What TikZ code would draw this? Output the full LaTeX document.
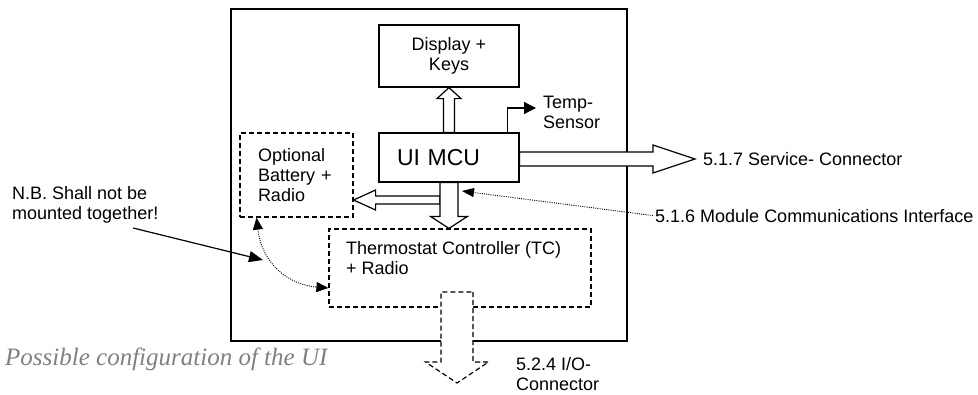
\documentclass[tikz,border=0pt]{standalone}
\usepackage{fontspec}
\setmainfont{Liberation Sans}
\newfontfamily\capfont{Liberation Serif}
\usetikzlibrary{arrows.meta,calc}
\definecolor{capgray}{RGB}{128,128,128}

% hollow block arrow: [style]{from}{to}{shaft half width}{head half width}{head length}
\newcommand{\blockarrow}[6][]{%
  \coordinate (ba-s) at (#2);
  \coordinate (ba-t) at (#3);
  \coordinate (ba-h) at ($(ba-t)!#6!(ba-s)$);
  \draw[#1] ($(ba-s)!#4!90:(ba-t)$) -- ($(ba-h)!#4!90:(ba-t)$) -- ($(ba-h)!#5!90:(ba-t)$)
    -- (ba-t) -- ($(ba-h)!#5!-90:(ba-t)$) -- ($(ba-h)!#4!-90:(ba-t)$) -- ($(ba-s)!#4!-90:(ba-t)$) -- cycle;}

\begin{document}
\begin{tikzpicture}[x=1pt,y=-1pt,font=\fontsize{18}{20}\selectfont]
\tikzstyle{box}=[draw=black,line width=1.2pt,inner sep=0pt]
\tikzstyle{dashln}=[dash pattern=on 5pt off 3pt]
\tikzstyle{txt}=[inner sep=0pt,align=left]
\tikzstyle{hollow}=[draw=black,fill=white,line width=1.2pt,line join=miter]
\tikzstyle{dots}=[line width=0.9pt,dash pattern=on 1pt off 1.2pt]
\useasboundingbox (0,0) rectangle (978,394);

% outer frame
\node[box,minimum width=396pt,minimum height=332pt] (ui) at (429,175) {};

% blocks
\node[box,minimum width=140pt,minimum height=62pt,align=center] (disp) at (449,56) {Display +\\Keys};
\node[box,minimum height=49pt,text width=104pt,inner xsep=18pt,font=\fontsize{23}{26}\selectfont] (mcu) at (449,157.5) {UI MCU};
\node[box,dashln,minimum height=84pt,text width=77pt,inner xsep=18pt,align=left] (bat) at (296.5,175) {Optional\\Battery +\\Radio};
\node[box,dashln,minimum width=262pt,minimum height=78pt] (tc) at (460,268) {};
\node[txt,anchor=west] (tctext) at (346,258.5) {Thermostat Controller (TC)\\+ Radio};

% labels
\node[txt,anchor=west] (temp) at (543,112.5) {Temp-\\Sensor};
\node[txt,anchor=base west] (svc) at (703,165) {5.1.7 Service- Connector};
\node[txt,anchor=base west] (mci) at (655,222) {5.1.6 Module Communications Interface};
\node[txt,anchor=west] (io) at (516,374) {5.2.4 I/O-\\Connector};
\node[txt,anchor=west] (nb) at (12,204.5) {N.B. Shall not be\\mounted together!};
\node[txt,anchor=base west,font=\capfont\itshape\fontsize{25}{27}\selectfont,text=capgray] (cap) at (5,365) {Possible configuration of the UI};

\coordinate (svctip) at (695,159);
\coordinate (split) at (440,200);
\coordinate (iotop) at (457,292);
\coordinate (iotip) at (457,383);
\coordinate (tsens) at (536,108);
\coordinate (mcitip) at (462,191);
\coordinate (nbstart) at (133,228);
\coordinate (nbtip) at (263,260);
\coordinate (batb) at ($(bat.south west)!0.15!(bat.south east)$);

% bus arrows
\blockarrow[hollow]{mcu.north}{disp.south}{5.5pt}{12pt}{11pt}
\blockarrow[hollow]{[yshift=-1.5pt]mcu.east}{svctip}{7pt}{14pt}{42pt}
\blockarrow[hollow]{split}{bat.east |- split}{4pt}{10pt}{22pt}
\blockarrow[hollow]{mcu.south}{mcu.south |- tc.north}{9pt}{18.5pt}{12pt}
\blockarrow[hollow,dashln]{iotop}{iotip}{16pt}{31.5pt}{21pt}

% signal lines
\draw[line width=1.2pt,-{Triangle[length=12pt,width=12pt]}] ([xshift=-12pt]mcu.north east) |- (tsens);
\draw[dots,-{Triangle[length=12pt,width=9pt]}] ([xshift=-2pt]mci.west) -- (mcitip);
\draw[line width=1.2pt,-{Triangle[length=14pt,width=11pt]}] (nbstart) -- (nbtip);
\draw[dots,{Triangle[length=12pt,width=10pt]}-{Triangle[length=12pt,width=10pt]}] (batb) .. controls (262,265) and (290,285) .. ([yshift=-20pt]tc.west);
\end{tikzpicture}
\end{document}
